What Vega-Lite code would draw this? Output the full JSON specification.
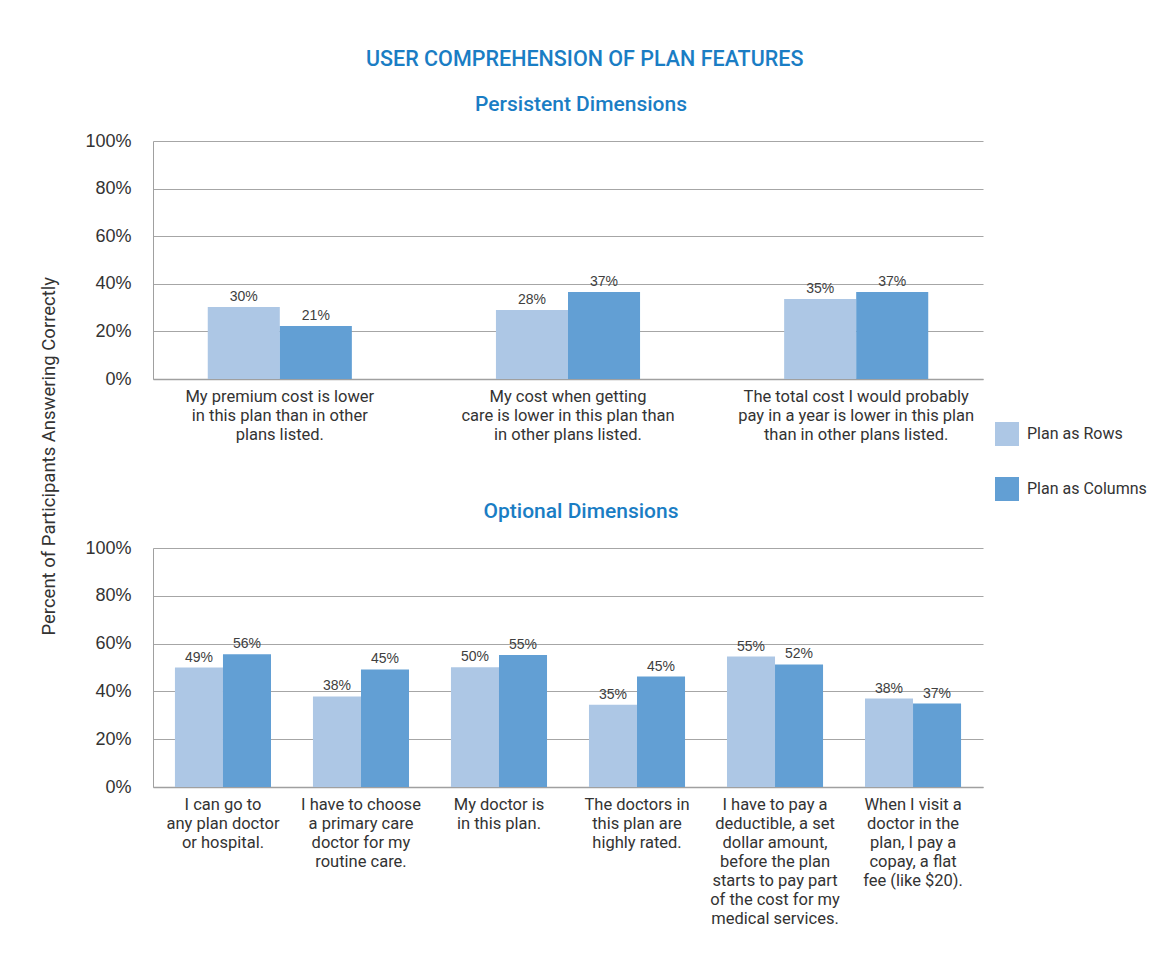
{
  "$schema": "https://vega.github.io/schema/vega-lite/v6.json",
  "background": "white",
  "padding": {"left": 40, "top": 48, "right": 10, "bottom": 10},
  "datasets": {
    "persistent": [
      {"question": "My premium cost is lower|in this plan than in other|plans listed.", "plan": "Plan as Rows", "value": 30.3, "label": "30%"},
      {"question": "My premium cost is lower|in this plan than in other|plans listed.", "plan": "Plan as Columns", "value": 22.3, "label": "21%"},
      {"question": "My cost when getting|care is lower in this plan than|in other plans listed.", "plan": "Plan as Rows", "value": 29.0, "label": "28%"},
      {"question": "My cost when getting|care is lower in this plan than|in other plans listed.", "plan": "Plan as Columns", "value": 36.6, "label": "37%"},
      {"question": "The total cost I would probably|pay in a year is lower in this plan|than in other plans listed.", "plan": "Plan as Rows", "value": 33.6, "label": "35%"},
      {"question": "The total cost I would probably|pay in a year is lower in this plan|than in other plans listed.", "plan": "Plan as Columns", "value": 36.6, "label": "37%"}
    ],
    "optional": [
      {"question": "I can go to|any plan doctor|or hospital.", "plan": "Plan as Rows", "value": 50.0, "label": "49%"},
      {"question": "I can go to|any plan doctor|or hospital.", "plan": "Plan as Columns", "value": 55.5, "label": "56%"},
      {"question": "I have to choose|a primary care|doctor for my|routine care.", "plan": "Plan as Rows", "value": 37.9, "label": "38%"},
      {"question": "I have to choose|a primary care|doctor for my|routine care.", "plan": "Plan as Columns", "value": 49.2, "label": "45%"},
      {"question": "My doctor is|in this plan.", "plan": "Plan as Rows", "value": 50.1, "label": "50%"},
      {"question": "My doctor is|in this plan.", "plan": "Plan as Columns", "value": 55.2, "label": "55%"},
      {"question": "The doctors in|this plan are|highly rated.", "plan": "Plan as Rows", "value": 34.4, "label": "35%"},
      {"question": "The doctors in|this plan are|highly rated.", "plan": "Plan as Columns", "value": 46.2, "label": "45%"},
      {"question": "I have to pay a|deductible, a set|dollar amount,|before the plan|starts to pay part|of the cost for my|medical services.", "plan": "Plan as Rows", "value": 54.6, "label": "55%"},
      {"question": "I have to pay a|deductible, a set|dollar amount,|before the plan|starts to pay part|of the cost for my|medical services.", "plan": "Plan as Columns", "value": 51.3, "label": "52%"},
      {"question": "When I visit a|doctor in the|plan, I pay a|copay, a flat|fee (like $20).", "plan": "Plan as Rows", "value": 37.0, "label": "38%"},
      {"question": "When I visit a|doctor in the|plan, I pay a|copay, a flat|fee (like $20).", "plan": "Plan as Columns", "value": 34.9, "label": "37%"}
    ]
  },
  "title": {
    "text": "USER COMPREHENSION OF PLAN FEATURES",
    "font": "Roboto", "fontSize": 21.5, "fontWeight": 500, "color": "#1a7dc4",
    "anchor": "middle", "frame": "bounds", "offset": 24, "dx": -9
  },
  "vconcat": [
    {
      "title": {
        "text": "Percent of Participants Answering Correctly",
        "orient": "left", "anchor": "middle", "dx": 54,
        "font": "Roboto", "fontSize": 18.5, "fontWeight": "normal", "color": "#333333", "offset": 26
      },
      "spacing": 0,
      "resolve": {"legend": {"color": "independent"}, "scale": {"x": "independent", "xOffset": "independent"}},
      "vconcat": [
        {
          "title": {"text": "Persistent Dimensions", "dx": 13},
          "width": 830,
          "height": 238,
          "data": {"name": "persistent"},
          "encoding": {
            "x": {
              "field": "question", "type": "nominal", "sort": null,
              "scale": {"paddingInner": 0.5, "paddingOuter": 0.19},
              "axis": {"title": null, "labelExpr": "split(datum.label, '|')"}
            },
            "xOffset": {
              "field": "plan", "type": "nominal", "sort": ["Plan as Rows", "Plan as Columns"],
              "scale": {"paddingInner": 0, "paddingOuter": 0}
            },
            "y": {
              "field": "value", "type": "quantitative",
              "scale": {"domain": [0, 100]},
              "axis": {"title": null, "values": [0, 20, 40, 60, 80, 100], "labelExpr": "datum.value + '%'"}
            }
          },
          "layer": [
            {
              "mark": {"type": "bar"},
              "encoding": {
                "color": {
                  "field": "plan", "type": "nominal",
                  "scale": {"domain": ["Plan as Rows", "Plan as Columns"], "range": ["#adc7e5", "#629fd4"]},
                  "legend": {
                    "title": null, "orient": "none", "legendX": 842, "legendY": 281,
                    "symbolType": "square", "symbolSize": 576, "symbolStrokeWidth": 0,
                    "labelFont": "Roboto", "labelFontSize": 16, "labelColor": "#333333",
                    "rowPadding": 31, "labelOffset": 8
                  }
                }
              }
            },
            {
              "mark": {"type": "text", "dy": -10, "font": "Liberation Sans", "fontSize": 14, "color": "#404040"},
              "encoding": {"text": {"field": "label"}}
            }
          ]
        },
        {
          "title": {"text": "Optional Dimensions", "dx": 13},
          "width": 830,
          "height": 239,
          "data": {"name": "optional"},
          "encoding": {
            "x": {
              "field": "question", "type": "nominal", "sort": null,
              "scale": {"paddingInner": 0.304, "paddingOuter": 0.159},
              "axis": {"title": null, "labelExpr": "split(datum.label, '|')"}
            },
            "xOffset": {
              "field": "plan", "type": "nominal", "sort": ["Plan as Rows", "Plan as Columns"],
              "scale": {"paddingInner": 0, "paddingOuter": 0}
            },
            "y": {
              "field": "value", "type": "quantitative",
              "scale": {"domain": [0, 100]},
              "axis": {"title": null, "values": [0, 20, 40, 60, 80, 100], "labelExpr": "datum.value + '%'"}
            }
          },
          "layer": [
            {
              "mark": {"type": "bar"},
              "encoding": {
                "color": {
                  "field": "plan", "type": "nominal",
                  "scale": {"domain": ["Plan as Rows", "Plan as Columns"], "range": ["#adc7e5", "#629fd4"]},
                  "legend": null
                }
              }
            },
            {
              "mark": {"type": "text", "dy": -10, "font": "Liberation Sans", "fontSize": 14, "color": "#404040"},
              "encoding": {"text": {"field": "label"}}
            }
          ]
        }
      ]
    }
  ],
  "config": {
    "view": {"stroke": null},
    "title": {"font": "Roboto", "fontSize": 21, "fontWeight": 500, "color": "#1a7dc4", "anchor": "middle", "offset": 17},
    "axisX": {
      "labelAngle": 0, "labelFont": "Roboto", "labelFontSize": 16.5, "labelColor": "#333333",
      "labelLineHeight": 19, "labelPadding": 9, "labelLimit": 0, "ticks": false,
      "domainColor": "#a0a0a0", "domainWidth": 1.5, "grid": false
    },
    "axisY": {
      "labelFont": "Liberation Sans", "labelFontSize": 18, "labelColor": "#333333",
      "labelPadding": 22, "ticks": false, "domainColor": "#a0a0a0", "domainWidth": 1,
      "grid": true, "gridColor": "#a6a6a6", "gridWidth": 1.2
    }
  }
}
